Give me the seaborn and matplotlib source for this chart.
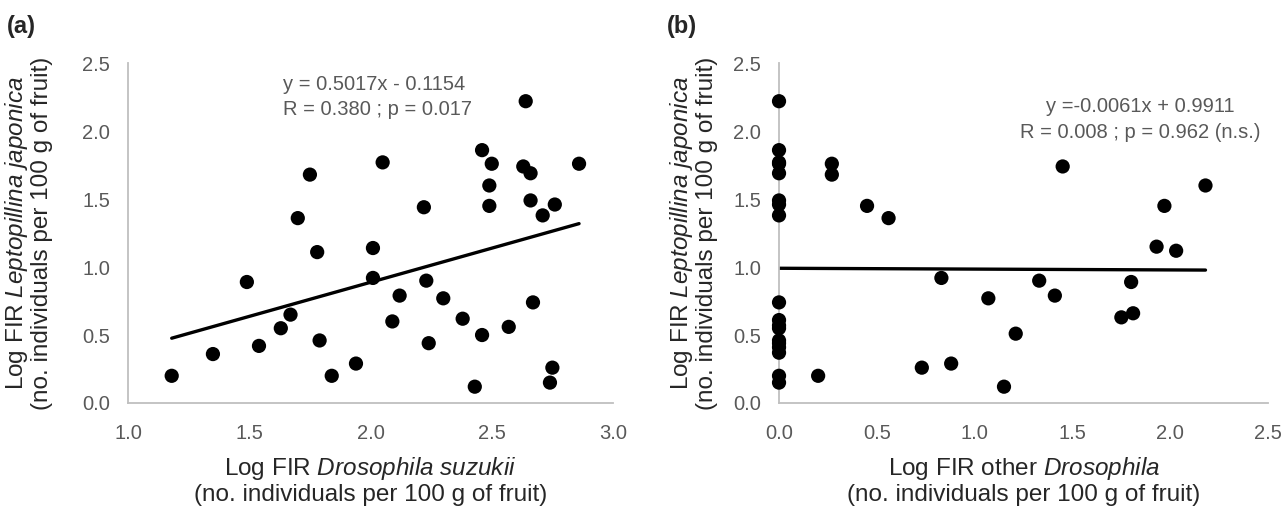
import numpy as np
import pandas as pd
import seaborn as sns
import matplotlib.pyplot as plt

# panel (a): D. suzukii vs L. japonica
suzukii_x = [1.18, 1.35, 1.49, 1.54, 1.63, 1.67, 1.70, 1.75, 1.78, 1.79,
             1.84, 1.94, 2.01, 2.01, 2.05, 2.09, 2.12, 2.22, 2.23, 2.24,
             2.30, 2.38, 2.43, 2.46, 2.46, 2.50, 2.49, 2.49, 2.57, 2.63,
             2.64, 2.66, 2.66, 2.67, 2.71, 2.75, 2.74, 2.76, 2.86]
suzukii_y = [0.20, 0.36, 0.89, 0.42, 0.55, 0.65, 1.36, 1.68, 1.11, 0.46,
             0.20, 0.29, 0.92, 1.14, 1.77, 0.60, 0.79, 1.44, 0.90, 0.44,
             0.77, 0.62, 0.12, 1.86, 0.50, 1.76, 1.60, 1.45, 0.56, 1.74,
             2.22, 1.69, 1.49, 0.74, 1.38, 0.26, 0.15, 1.46, 1.76]
slope_a, icpt_a = 0.5017, -0.1154

# panel (b): other Drosophila vs L. japonica
other_x = [0.0] * 18 + [0.20, 0.27, 0.27, 0.45, 0.56, 0.73, 0.83, 0.88, 1.07,
                        1.15, 1.21, 1.33, 1.41, 1.45, 1.75, 1.80, 1.81, 1.93,
                        1.97, 2.03, 2.18]
other_y = [2.22, 1.86, 1.77, 1.76, 1.69, 1.49, 1.46, 1.38, 0.74, 0.61,
           0.57, 0.55, 0.46, 0.44, 0.41, 0.37, 0.20, 0.15,
           0.20, 1.76, 1.68, 1.45, 1.36, 0.26, 0.92, 0.29, 0.77,
           0.12, 0.51, 0.90, 0.79, 1.74, 0.63, 0.89, 0.66, 1.15,
           1.45, 1.12, 1.60]
slope_b, icpt_b = -0.0061, 0.9911

sns.set_style("white")
plt.rcParams['font.family'] = ['Liberation Sans', 'DejaVu Sans']
plt.rcParams['mathtext.fontset'] = 'custom'
plt.rcParams['mathtext.it'] = 'Liberation Sans:italic'
plt.rcParams['mathtext.rm'] = 'Liberation Sans'

fig = plt.figure(figsize=(12.87, 5.08), dpi=100)
ax_a = fig.add_axes([0.0995, 0.2067, 0.3768, 0.669])
ax_b = fig.add_axes([0.6053, 0.2067, 0.3800, 0.669])

grey = '#595959'
tick_fs = 14.5
lab_fs = 17.5


def draw(ax, xs, ys, slope, icpt, xlim, xticks):
    df = pd.DataFrame({'x': xs, 'y': ys})
    sns.scatterplot(data=df, x='x', y='y', ax=ax, s=105, color='black',
                    edgecolor='none', zorder=3, clip_on=False)
    fit = pd.DataFrame({'x': [min(xs), max(xs)]})
    fit['y'] = slope * fit['x'] + icpt
    sns.lineplot(data=fit, x='x', y='y', ax=ax, color='black', lw=2.4,
                 zorder=2)
    ax.set_xlim(*xlim)
    ax.set_ylim(0, 2.5)
    ax.set_xticks(xticks)
    ax.set_xticklabels([f'{t:.1f}' for t in xticks])
    ax.set_yticks([0, 0.5, 1.0, 1.5, 2.0, 2.5])
    ax.set_yticklabels(['0.0', '0.5', '1.0', '1.5', '2.0', '2.5'])
    ax.tick_params(axis='x', length=0, pad=15, labelsize=tick_fs,
                   labelcolor=grey)
    ax.tick_params(axis='y', length=0, pad=13, labelsize=tick_fs,
                   labelcolor=grey)
    for s in ['top', 'right']:
        ax.spines[s].set_visible(False)
    for s in ['left', 'bottom']:
        ax.spines[s].set_color('#bfbfbf')
        ax.spines[s].set_linewidth(1.3)
    ax.set_ylabel('Log FIR $\\it{Leptopillina\\ japonica}$\n'
                  '(no. individuals per 100 g of fruit)',
                  fontsize=lab_fs, linespacing=1.05)


draw(ax_a, suzukii_x, suzukii_y, slope_a, icpt_a, (1.0, 3.0),
     [1.0, 1.5, 2.0, 2.5, 3.0])
draw(ax_b, other_x, other_y, slope_b, icpt_b, (0.0, 2.5),
     [0.0, 0.5, 1.0, 1.5, 2.0, 2.5])

ax_a.yaxis.set_label_coords(-0.155, 0.5)
ax_b.yaxis.set_label_coords(-0.125, 0.5)

ax_a.set_xlabel('Log FIR $\\it{Drosophila\\ suzukii}$\n'
                '(no. individuals per 100 g of fruit)',
                fontsize=lab_fs, labelpad=9, linespacing=1.08)
ax_b.set_xlabel('Log FIR other $\\it{Drosophila}$\n'
                '(no. individuals per 100 g of fruit)',
                fontsize=lab_fs, labelpad=9, linespacing=1.08)

ax_a.text(0.32, 0.90, 'y = 0.5017x - 0.1154\nR = 0.380 ; p = 0.017',
          transform=ax_a.transAxes, ha='left', va='center', fontsize=tick_fs,
          color=grey, linespacing=1.37)
ax_b.text(0.738, 0.835, 'y =-0.0061x + 0.9911\nR = 0.008 ; p = 0.962 (n.s.)',
          transform=ax_b.transAxes, ha='center', va='center',
          fontsize=tick_fs, color=grey, linespacing=1.45)

fig.text(0.005, 0.947, '(a)', fontsize=17, fontweight='bold', va='center')
fig.text(0.518, 0.947, '(b)', fontsize=17, fontweight='bold', va='center')

fig.savefig('out.png', dpi=100)
